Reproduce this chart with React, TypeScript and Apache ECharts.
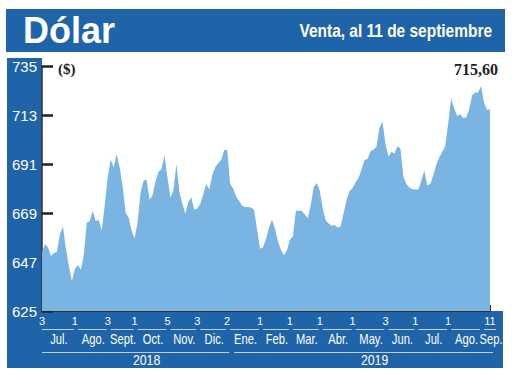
import React, { useEffect, useRef } from 'react';
import * as echarts from 'echarts';

// Daily "Dólar – venta" values, Jul 3 2018 → Sep 11 2019
const values: number[] = [
  651.5, 655, 653.5, 649.7, 651, 651.5, 659.5, 663, 653, 645, 638.5,
  643.8, 645.7, 643.5, 650, 664.7, 665.3, 670, 665.3, 666, 661,
  672.5, 685, 693, 689.5, 695.5, 689.5, 681, 669.2, 667, 661,
  657.6, 665, 678, 683.5, 684, 675, 677, 683, 687.5, 688.6,
  695, 685, 676, 679, 691, 678.5, 673, 668.8, 674, 676,
  670.5, 671, 673, 677.5, 682, 679.5, 686, 689.5, 691.5, 692.8,
  697.3, 697.4, 682, 680, 676.4, 674.4, 672.2, 671.7, 671.7, 671.5,
  670.5, 661.8, 653, 653.6, 657.3, 662.5, 666, 662, 656.3, 652.5,
  650, 652.3, 657, 658.5, 670, 670, 670, 668.3, 666.8, 672.7,
  680.8, 682.5, 679, 671, 665.6, 664.3, 663.3, 663.6, 662.5, 662.9,
  669, 675, 679, 680.2, 682.8, 684.8, 688.5, 692.8, 693.3, 696.7,
  697.4, 698.8, 707.3, 710, 700, 694.3, 696.5, 695.7, 699, 698,
  685.3, 682, 680.5, 679.7, 679.5, 679.5, 683.5, 688, 681.5, 682,
  686, 690.5, 694, 696.4, 699, 709, 720.4, 716, 712.6, 713.3,
  711.6, 711.9, 715.4, 721.8, 723.1, 723.1, 726, 718.5, 715.2, 715.6,
];

const yMin = 625;
const yMax = 735;
const yStep = 22;

const dayTickIdx = [0, 11, 22, 31, 42, 52, 62, 73, 83, 93, 104, 115, 125, 136, 150];
const dayTickLabels = ['3', '1', '3', '1', '5', '3', '2', '1', '1', '1', '1', '3', '1', '1', '11'];

const monthNames = ['Jul.', 'Ago.', 'Sept.', 'Oct.', 'Nov.', 'Dic.', 'Ene.', 'Feb.', 'Mar.', 'Abr.', 'May.', 'Jun.', 'Jul.', 'Ago.', 'Sep.'];
const monthStartIdx = [0, 11, 22, 31, 42, 52, 62, 73, 83, 93, 104, 115, 125, 136, 147];

const years = ['2018', '2019'];
const yearStartIdx = [0, 62];

const title = 'Dólar';
const subtitle = 'Venta, al 11 de septiembre';
const unitLabel = '($)';
const lastValueLabel = '715,60';

const BLUE = '#1f63a8';
const AREA = '#7ab4e2';
const SANS = "'Liberation Sans', Arial, sans-serif";

export default function App() {
  const ref = useRef<HTMLDivElement>(null);

  useEffect(() => {
    const chart = echarts.init(ref.current!, null, { renderer: 'svg' });
    const categories = values.map((_, i) => String(i));
    const last = values.length - 1;

    chart.setOption({
      animation: false,
      backgroundColor: '#ffffff',
      grid: { left: 42, right: 30, top: 66, bottom: 64, containLabel: false },
      xAxis: {
        type: 'category',
        data: categories,
        boundaryGap: false,
        axisLine: { show: true, lineStyle: { color: '#333', width: 2 } },
        axisTick: {
          show: true,
          inside: true,
          length: 6,
          interval: (i: number) => i === last,
          lineStyle: { color: '#333', width: 2 },
        },
        axisLabel: {
          show: true,
          interval: (i: number) => dayTickIdx.indexOf(i) >= 0,
          formatter: (_v: string, i: number) => dayTickLabels[dayTickIdx.indexOf(i)] ?? '',
          color: '#ffffff',
          fontSize: 11,
          fontFamily: SANS,
          margin: 4,
        },
        splitLine: { show: false },
      },
      yAxis: {
        type: 'value',
        min: yMin,
        max: yMax,
        interval: yStep,
        axisLine: { show: true, lineStyle: { color: '#333', width: 1.5 } },
        axisTick: { show: true, inside: true, length: 11, lineStyle: { color: '#222', width: 2.5 } },
        axisLabel: { color: '#ffffff', fontSize: 15, fontFamily: SANS, margin: 5 },
        splitLine: { show: false },
      },
      series: [
        {
          type: 'line',
          data: values,
          symbol: 'none',
          lineStyle: { width: 0, color: AREA },
          itemStyle: { color: AREA },
          areaStyle: { color: AREA, opacity: 1 },
          z: 2,
        },
      ],
    });

    const px = (i: number) => chart.convertToPixel({ xAxisIndex: 0 }, i) as number;

    const g: any[] = [
      { type: 'rect', z: -1, shape: { x: 6, y: 9, width: 499, height: 43 }, style: { fill: BLUE } },
      { type: 'rect', z: -1, shape: { x: 7, y: 58, width: 35, height: 310 }, style: { fill: BLUE } },
      { type: 'rect', z: -1, shape: { x: 7, y: 311, width: 496, height: 57 }, style: { fill: BLUE } },
      {
        type: 'text', z: 10, x: 23, y: 30,
        style: { text: title, fill: '#fff', fontSize: 36, fontWeight: 'bold', fontFamily: SANS, align: 'left', verticalAlign: 'middle' },
      },
      {
        type: 'text', z: 10, x: 492, y: 31, scaleX: 0.86,
        style: { text: subtitle, fill: '#fff', fontSize: 18, fontWeight: 'bold', fontFamily: SANS, align: 'right', verticalAlign: 'middle' },
      },
      {
        type: 'text', z: 10, x: 58, y: 69,
        style: { text: unitLabel, fill: '#222', fontSize: 15, fontWeight: 'bold', fontFamily: "'Liberation Serif', serif", align: 'left', verticalAlign: 'middle' },
      },
      {
        type: 'text', z: 10, x: 498, y: 69,
        style: { text: lastValueLabel, fill: '#222', fontSize: 16, fontWeight: 'bold', fontFamily: "'Liberation Serif', serif", align: 'right', verticalAlign: 'middle' },
      },
    ];

    const lineY1 = 329.5;
    const monthY = 339.5;
    const lineY2 = 352.5;
    const yearY = 360;
    const lineStyle = { stroke: 'rgba(255,255,255,0.7)', lineWidth: 1 };

    monthNames.forEach((name, k) => {
      const s = px(monthStartIdx[k]);
      const isLast = k === monthNames.length - 1;
      const x0 = k === 0 ? s : s + 3;
      const x1 = isLast ? px(last) + 6 : px(monthStartIdx[k + 1]) - 1;
      g.push({ type: 'line', z: 5, shape: { x1: x0, y1: lineY1, x2: x1, y2: lineY1 }, style: lineStyle });
      g.push({
        type: 'text', z: 5, x: (x0 + x1) / 2 + 1, y: monthY, scaleX: 0.8,
        style: { text: name, fill: '#fff', fontSize: 14, fontFamily: SANS, align: 'center', verticalAlign: 'middle' },
      });
    });

    years.forEach((yr, k) => {
      const x0 = k === 0 ? px(yearStartIdx[k]) : px(yearStartIdx[k]) + 7;
      const x1 = k < years.length - 1 ? px(yearStartIdx[k + 1]) + 2 : px(last) + 3;
      g.push({ type: 'line', z: 5, shape: { x1: x0, y1: lineY2, x2: x1, y2: lineY2 }, style: lineStyle });
      g.push({
        type: 'text', z: 5, x: (x0 + x1) / 2 + 11, y: yearY, scaleX: 0.82,
        style: { text: yr, fill: '#fff', fontSize: 15, fontFamily: SANS, align: 'center', verticalAlign: 'middle' },
      });
    });

    chart.setOption({ graphic: g });

    return () => chart.dispose();
  }, []);

  return <div ref={ref} style={{ position: 'fixed', left: 0, top: 0, width: 520, height: 375 }} />;
}
